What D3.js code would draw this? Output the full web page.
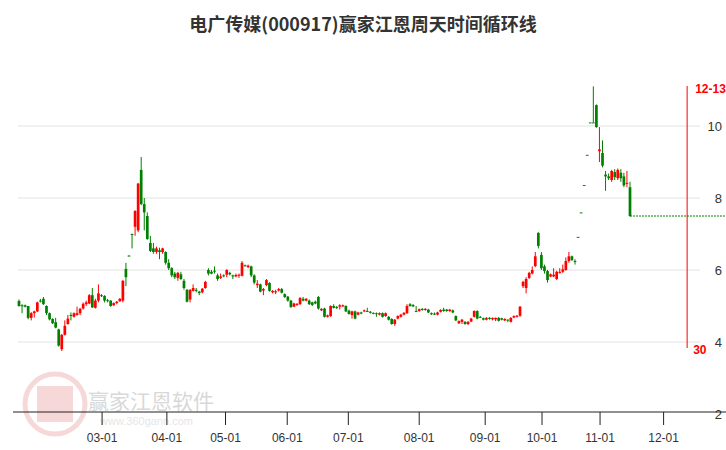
<!DOCTYPE html>
<html><head><meta charset="utf-8">
<script src="https://cdn.jsdelivr.net/npm/d3@7/dist/d3.min.js"></script>
<style>body{margin:0;background:#fff}svg{display:block}</style>
</head><body>
<svg id="c" width="726" height="450"></svg>
<script>
// [open, close, high, low]
const candles = [
[5.14,5.0,5.18,4.98],[5.02,5.0,5.05,4.8],[5.02,4.98,5.04,4.96],[5.0,4.67,5.0,4.63],[4.67,4.8,4.83,4.6],
[4.8,4.85,4.87,4.68],[4.85,5.1,5.12,4.83],[5.15,5.15,5.2,5.1],[5.2,5.05,5.25,5.03],[5.0,4.8,5.02,4.75],
[4.8,4.63,4.82,4.6],[4.64,4.52,4.66,4.5],[4.55,4.4,4.67,4.38],[4.35,3.9,4.37,3.87],[3.8,4.2,4.22,3.75],
[4.2,4.45,4.6,4.18],[4.5,4.65,4.75,4.48],[4.75,4.75,4.82,4.6],[4.7,4.8,4.82,4.68],[4.75,4.8,4.98,4.73],
[4.8,4.92,4.95,4.75],[4.93,5.06,5.1,4.9],[5.05,5.1,5.15,5.0],[5.07,5.3,5.33,5.05],[5.3,4.96,5.5,4.95],
[4.95,5.15,5.2,4.93],[5.15,5.35,5.6,5.1],[5.3,5.3,5.33,5.25],[5.28,5.15,5.3,5.1],[5.16,5.14,5.2,5.1],
[5.15,5.0,5.16,4.98],[5.02,5.08,5.1,5.0],[5.08,5.12,5.14,5.05],[5.13,5.2,5.22,5.12],[5.15,5.7,5.72,5.1],
[6.03,5.8,6.2,5.55],[6.4,6.4,6.41,6.39],[7.0,7.0,7.01,6.6],[7.2,7.64,7.66,6.95],[7.1,8.4,8.42,7.05],
[8.78,7.83,9.14,7.8],[7.83,7.6,8.0,7.1],[7.5,6.86,7.6,6.84],[6.75,6.53,6.95,6.5],[6.6,6.5,6.75,6.45],
[6.5,6.6,6.65,6.45],[6.55,6.5,6.62,6.3],[6.5,6.6,6.62,6.45],[6.5,6.2,6.52,6.15],[6.2,6.05,6.3,6.0],
[6.05,5.85,6.08,5.8],[5.9,5.8,5.95,5.75],[5.78,5.92,5.95,5.7],[5.88,5.75,5.95,5.72],[5.7,5.5,5.75,5.45],
[5.45,5.12,5.47,5.1],[5.18,5.45,5.47,5.1],[5.42,5.5,5.6,5.4],[5.45,5.42,5.5,5.38],[5.4,5.36,5.42,5.3],
[5.38,5.48,5.5,5.35],[5.5,5.67,5.7,5.48],[6.0,5.9,6.05,5.85],[5.95,5.9,6.0,5.88],[5.98,5.97,6.1,5.9],
[5.85,5.75,5.9,5.7],[5.78,5.82,5.9,5.75],[5.85,5.83,5.88,5.8],[5.87,6.0,6.02,5.8],[5.92,5.88,5.95,5.85],
[5.85,5.83,5.87,5.75],[5.82,5.86,5.9,5.8],[5.84,5.87,5.9,5.78],[5.84,6.2,6.25,5.82],[6.13,6.13,6.15,6.1],
[6.08,6.12,6.15,6.05],[6.1,5.85,6.12,5.8],[5.85,5.65,5.88,5.6],[5.58,5.62,5.72,5.5],[5.6,5.4,5.62,5.38],
[5.43,5.47,5.5,5.3],
[5.58,5.72,5.75,5.55],[5.64,5.42,5.66,5.4],[5.38,5.42,5.44,5.35],[5.38,5.41,5.45,5.33],[5.43,5.47,5.5,5.4],
[5.47,5.37,5.5,5.35],[5.33,5.25,5.35,5.22],[5.26,5.15,5.28,5.12],[5.15,4.97,5.17,4.95],[4.98,5.07,5.09,4.97],
[5.03,5.06,5.08,5.0],[5.05,5.22,5.25,5.03],[5.2,5.15,5.25,5.13],[5.15,5.2,5.22,5.13],[5.15,5.05,5.18,5.03],
[5.1,5.03,5.12,5.0],[5.12,5.07,5.15,5.05],[5.25,4.93,5.28,4.9],[4.88,4.92,4.94,4.86],[4.93,4.7,4.95,4.68],
[4.7,4.74,4.76,4.68],[4.72,5.0,5.02,4.7],[5.0,4.95,5.05,4.93],[4.97,4.94,5.0,4.92],[4.98,5.02,5.05,4.9],
[4.99,5.02,5.04,4.97],[5.0,4.85,5.02,4.83],[4.87,4.78,4.9,4.76],[4.75,4.85,4.87,4.65],[4.85,4.65,4.87,4.63],
[4.76,4.82,4.84,4.74],[4.82,4.79,4.84,4.77],[4.85,4.88,4.9,4.83],[4.86,4.85,4.95,4.84],[4.84,4.81,4.86,4.79],
[4.81,4.79,4.82,4.77],[4.8,4.78,4.82,4.7],[4.76,4.8,4.82,4.74],[4.8,4.7,4.82,4.68],[4.72,4.8,4.82,4.7],
[4.7,4.62,4.72,4.6],[4.64,4.5,4.66,4.48],[4.5,4.62,4.64,4.45],[4.65,4.72,4.74,4.63],[4.7,4.76,4.78,4.68],
[4.76,4.81,4.83,4.74],[4.8,5.0,5.05,4.78],[5.05,5.0,5.08,4.98],[5.03,4.99,5.05,4.97],[4.86,4.85,5.0,4.84],
[4.86,4.91,4.93,4.84],[4.92,4.89,4.94,4.87],[4.89,4.92,4.94,4.87],[4.9,4.82,4.92,4.8],[4.8,4.77,4.82,4.75],
[4.79,4.79,4.82,4.75],[4.76,4.82,4.84,4.74],[4.84,4.89,4.91,4.82],[4.9,4.86,4.95,4.84],[4.9,4.86,4.92,4.84],
[4.86,4.9,4.92,4.84],[4.88,4.82,4.9,4.8],[4.72,4.6,4.74,4.58],[4.52,4.58,4.6,4.5],[4.56,4.62,4.64,4.5],
[4.56,4.5,4.58,4.48],[4.5,4.56,4.58,4.47],[4.57,4.65,4.67,4.55],[4.7,4.86,4.88,4.68],[4.86,4.65,4.88,4.63],
[4.7,4.69,4.72,4.67],[4.66,4.62,4.68,4.6],[4.62,4.67,4.69,4.6],[4.67,4.64,4.69,4.62],[4.63,4.67,4.68,4.6],
[4.63,4.67,4.68,4.58],[4.67,4.59,4.69,4.57],[4.66,4.62,4.67,4.6],[4.6,4.64,4.66,4.58],[4.62,4.6,4.63,4.55],
[4.56,4.67,4.69,4.54],[4.68,4.72,4.74,4.66],[4.7,4.73,4.75,4.68],[4.73,4.98,5.0,4.7],
[5.55,5.67,5.7,5.5],[5.5,5.75,5.8,5.35],[5.78,5.92,5.95,5.75],[5.9,6.0,6.1,5.88],[6.11,6.38,6.5,6.08],
[7.03,6.67,7.05,6.6],[6.42,6.05,6.5,6.0],[6.1,5.97,6.15,5.9],[5.97,5.72,6.0,5.65],[5.82,5.88,5.9,5.8],
[5.82,5.87,6.05,5.8],[5.75,5.95,5.98,5.72],[5.92,5.95,6.05,5.9],[5.95,6.02,6.15,5.92],[6.0,6.25,6.35,5.98],
[6.25,6.38,6.5,6.2],[6.38,6.28,6.4,6.25],[6.25,6.25,6.3,6.15],
[6.92,6.92,6.92,6.92],[7.6,7.6,7.6,7.6],[8.36,8.36,8.36,8.36],[9.2,9.2,9.2,9.2],[10.1,10.1,10.1,10.1],
[10.1,10.1,11.1,10.1],[10.58,9.97,10.6,9.95],[9.3,9.35,9.97,9.0],[9.25,8.9,9.6,8.85],
[8.65,8.6,8.75,8.2],[8.6,8.55,8.68,8.5],[8.5,8.75,8.78,8.45],[8.72,8.58,8.8,8.5],[8.55,8.78,8.82,8.5],
[8.7,8.55,8.8,8.45],[8.6,8.35,8.7,8.3],[8.4,8.42,8.75,8.3],[8.3,7.5,8.45,7.48]
];
const tickLabels = ["03-01","04-01","05-01","06-01","07-01","08-01","09-01","10-01","11-01","12-01"];
const tickIndex = [27.2,48.4,67.6,87.8,107.8,131,152.6,171.2,190.2,211];
const yTicks = [2,4,6,8,10];
const cycleIndex = 218.7, cycleLabelTop = "12-13", cycleLabelBottom = "30";
const extendPrice = 7.5;

const svg = d3.select("#c");
const N = candles.length;
const x = d3.scaleLinear().domain([0, N-1]).range([19, 630]);
const y = d3.scaleLinear().domain([2, 10]).range([414, 126]);
const up = "#ff0000", dn = "#008000";

svg.append("text").attr("x",363).attr("y",31).attr("text-anchor","middle")
  .attr("font-family","Noto Sans CJK SC").attr("font-weight","bold").attr("font-size",18)
  .attr("fill","#333").text("电广传媒(000917)赢家江恩周天时间循环线");

// watermark
const wm = svg.append("g").attr("opacity",0.25);
wm.append("circle").attr("cx",55).attr("cy",404).attr("r",30).attr("fill","none").attr("stroke","#d66").attr("stroke-width",5);
wm.append("rect").attr("x",37).attr("y",386).attr("width",36).attr("height",36).attr("fill","#d66");
wm.append("text").attr("x",88).attr("y",409).attr("font-family","Noto Sans CJK SC").attr("font-size",21).attr("fill","#666").text("赢家江恩软件");
wm.append("text").attr("x",100).attr("y",425).attr("font-family","Arial").attr("font-size",11).attr("fill","#999").text("www.360gann.com");

// grid
svg.append("g").selectAll("line").data(yTicks.slice(1)).join("line")
  .attr("x1",18).attr("x2",700).attr("y1",d=>y(d)).attr("y2",d=>y(d))
  .attr("stroke","#e2e2e2").attr("stroke-width",1);
svg.append("g").selectAll("text").data(yTicks).join("text")
  .attr("x",722).attr("y",d=>y(d)+5).attr("text-anchor","end")
  .attr("font-family","Liberation Sans").attr("font-size",13).attr("fill","#333").text(d=>d);

// x axis
const xa = svg.append("g").attr("transform","translate(0,412)");
xa.append("line").attr("x1",13).attr("x2",726).attr("stroke","#222");
xa.selectAll("line.t").data(tickIndex).join("line").attr("class","t")
  .attr("x1",d=>x(d)).attr("x2",d=>x(d)).attr("y1",0).attr("y2",13).attr("stroke","#222");
xa.selectAll("text").data(tickLabels).join("text")
  .attr("x",(d,i)=>x(tickIndex[i])).attr("y",30).attr("text-anchor","middle")
  .attr("font-family","Liberation Sans").attr("font-size",12).attr("fill","#333").text(d=>d);

// extension line
svg.append("line").attr("x1",x(N-1)).attr("x2",726).attr("y1",y(extendPrice)).attr("y2",y(extendPrice))
  .attr("stroke",dn).attr("stroke-dasharray","2,1");

// candles
const g = svg.append("g");
const bw = 2.7;
candles.forEach((c,i)=>{
  const [o,cl,h,l] = c;
  const col = cl>o ? up : dn;
  const cx = x(i);
  g.append("line").attr("x1",cx).attr("x2",cx).attr("y1",y(h)).attr("y2",y(l)).attr("stroke",col).attr("stroke-width",1);
  const top = y(Math.max(o,cl)), bot = y(Math.min(o,cl));
  g.append("rect").attr("x",cx-bw/2).attr("y",top).attr("width",bw).attr("height",Math.max(1,bot-top)).attr("fill",col);
});

// cycle line
svg.append("line").attr("x1",x(cycleIndex)).attr("x2",x(cycleIndex)).attr("y1",86).attr("y2",348).attr("stroke","#ff0000");
svg.append("text").attr("x",x(cycleIndex)+8).attr("y",93).attr("font-family","Liberation Sans").attr("font-weight","bold")
  .attr("font-size",12).attr("fill","#ff0000").text(cycleLabelTop);
svg.append("text").attr("x",x(cycleIndex)+6).attr("y",354).attr("font-family","Liberation Sans").attr("font-weight","bold")
  .attr("font-size",12).attr("fill","#ff0000").text(cycleLabelBottom);
</script>
</body></html>
